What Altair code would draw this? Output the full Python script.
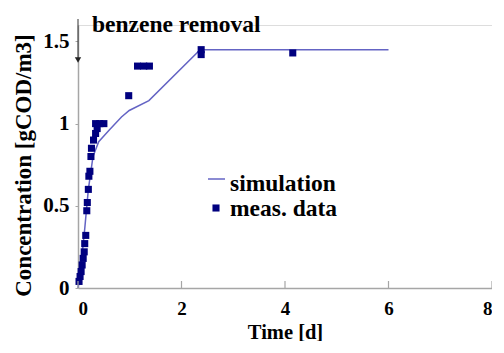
import altair as alt
import pandas as pd

# simulation curve
sim_t = [0, 0.04, 0.13, 0.2, 0.29, 0.4, 0.6, 0.84, 0.99, 1.37, 2.36, 6.0]
sim_c = [0.0, 0.08, 0.36, 0.6, 0.8, 0.89, 0.96, 1.04, 1.08, 1.14, 1.45, 1.45]

# measured data
meas_t = [0.02, 0.04, 0.06, 0.08, 0.10, 0.12, 0.13, 0.15, 0.17, 0.18, 0.20, 0.21,
          0.23, 0.25, 0.26, 0.30, 0.34, 0.37, 0.34, 0.42, 0.50, 0.98, 1.15, 1.27,
          1.38, 2.38, 2.38, 4.15]
meas_c = [0.04, 0.07, 0.10, 0.14, 0.18, 0.22, 0.27, 0.32, 0.47, 0.52, 0.60, 0.68,
          0.71, 0.80, 0.85, 0.90, 0.94, 0.97, 1.00, 1.00, 1.00, 1.17, 1.35, 1.35,
          1.35, 1.42, 1.45, 1.43]

x_ticks = [0, 2, 4, 6, 8]
y_ticks = [0, 0.5, 1, 1.5]
legend_labels = ["simulation", "meas. data"]
annotation = "benzene removal"

FONT = "Liberation Serif"
LINE_COL = "#6464c4"
PT_COL = "#00007f"
AX_COL = "#a6a6a6"

W, H = 414, 263

sim_df = pd.DataFrame({"t": sim_t, "c": sim_c})
meas_df = pd.DataFrame({"t": meas_t, "c": meas_c})
tick_df = pd.DataFrame({"t": x_ticks})

xs = alt.Scale(domain=[0, 8], nice=False)
ys = alt.Scale(domain=[0, 1.6], nice=False)

x_axis = alt.Axis(values=x_ticks, title="Time [d]", grid=False, tickSize=0,
                  labelPadding=11, titleY=50, titleBaseline="alphabetic",
                  domainColor=AX_COL, domainWidth=1.5, labelFont=FONT,
                  labelFontWeight="bold", labelFontSize=19, labelColor="black",
                  titleFont=FONT, titleFontWeight="bold", titleFontSize=20.5,
                  titleColor="black", labelOverlap=False)
y_axis = alt.Axis(values=y_ticks, title="Concentration [gCOD/m3]", grid=False,
                  tickSize=3, tickColor=AX_COL, labelPadding=6,
                  titleX=-55, titleY=140, titleBaseline="middle", titleAngle=270,
                  domainColor=AX_COL, domainWidth=1.5, labelFont=FONT,
                  labelFontWeight="bold", labelFontSize=21, labelColor="black",
                  titleFont=FONT, titleFontWeight="bold", titleFontSize=23,
                  titleColor="black", format="~g", labelOverlap=False)

line = alt.Chart(sim_df).mark_line(color=LINE_COL, strokeWidth=1.5).encode(
    x=alt.X("t:Q", scale=xs, axis=x_axis),
    y=alt.Y("c:Q", scale=ys, axis=y_axis),
)

pts = alt.Chart(meas_df).mark_point(shape="square", filled=True, size=50,
                                    color=PT_COL, opacity=1).encode(
    x=alt.X("t:Q", scale=xs),
    y=alt.Y("c:Q", scale=ys),
)

xticks = alt.Chart(tick_df).mark_rule(color=AX_COL, strokeWidth=1.2).encode(
    x=alt.X("t:Q", scale=xs),
    y=alt.value(H),
    y2=alt.value(H - 7),
)

# annotation arrow and text
arrow = alt.Chart(pd.DataFrame({"a": [0]})).mark_rule(color="#333333", strokeWidth=1).encode(
    x=alt.value(0), y=alt.value(-6), y2=alt.value(36))
arrow_head = alt.Chart(pd.DataFrame({"a": [0]})).mark_point(
    shape="triangle-down", filled=True, size=40, color="#222222", opacity=1).encode(
    x=alt.value(0), y=alt.value(35))
ann = alt.Chart(pd.DataFrame({"label": [annotation]})).mark_text(
    font=FONT, fontWeight="bold", fontSize=23.5, align="left", baseline="alphabetic",
    color="black").encode(x=alt.value(14), y=alt.value(7), text="label:N")

# legend
leg_line = alt.Chart(pd.DataFrame({"a": [0]})).mark_rule(color=LINE_COL, strokeWidth=1.5).encode(
    x=alt.value(130), x2=alt.value(147), y=alt.value(154))
leg_pt = alt.Chart(pd.DataFrame({"a": [0]})).mark_point(
    shape="square", filled=True, size=50, color=PT_COL, opacity=1).encode(
    x=alt.value(138), y=alt.value(183))
leg_txt = alt.Chart(pd.DataFrame({"label": legend_labels, "yy": [166, 191]})).mark_text(
    font=FONT, fontWeight="bold", fontSize=23.5, align="left", baseline="alphabetic",
    color="black").encode(x=alt.value(152), y=alt.Y("yy:Q", scale=None), text="label:N")

chart = alt.layer(line, pts, xticks, arrow, arrow_head, ann, leg_line, leg_pt, leg_txt).properties(
    width=W, height=H,
    autosize=alt.AutoSizeParams(type="none"),
    padding={"left": 70, "top": 17, "right": 0, "bottom": 53},
).configure_view(stroke=None).configure(background="white")

chart.save("out.html", embed_options={"renderer": "svg", "actions": False})
